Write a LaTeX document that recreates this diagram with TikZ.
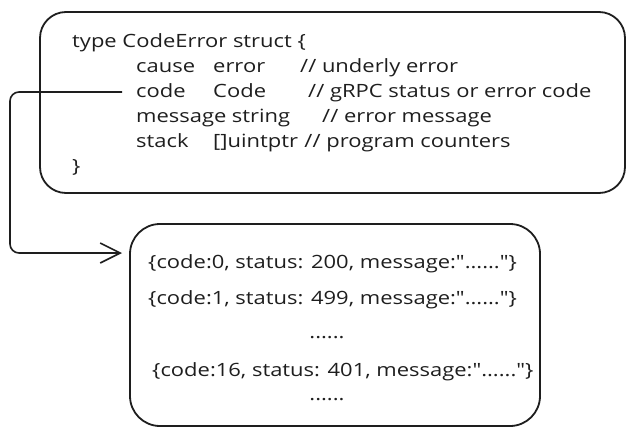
\documentclass[tikz,border=0pt]{standalone}
\usepackage{fontspec}
\newfontfamily\hand{Open Sans}[FakeStretch=1.2]
\usetikzlibrary{arrows.meta}
\definecolor{ink}{HTML}{1E1E1E}
\tikzset{
  box/.style={draw=ink, line width=1.8pt, rounded corners=26pt, inner sep=0pt},
  txt/.style={anchor=base west, inner sep=0pt, text=ink, font=\hand\fontsize{18.3}{21}\selectfont},
  ctxt/.style={anchor=base, inner sep=0pt, text=ink, font=\hand\fontsize{18.3}{21}\selectfont},
  link/.style={draw=ink, line width=1.6pt, rounded corners=9pt, -{Straight Barb[length=20pt,width=20pt,line width=1.6pt]}}
}
\begin{document}
\begin{tikzpicture}[x=1pt,y=-1pt]
\useasboundingbox (0,0) rectangle (638,436);
% boxes
\node[box, minimum width=585pt, minimum height=181pt] (top) at (332.5,102.5) {};
\node[box, rounded corners=30pt, minimum width=410pt, minimum height=202pt] (bot) at (335,325) {};
% struct text
\node[txt] (l1) at (72,48) {type CodeError struct \{};
\node[txt] (c1a) at (136,73) {cause};
\node[txt] (c1b) at (213,73) {error};
\node[txt] (c1c) at (300,73) {// underly error};
\node[txt] (c2a) at (136,98) {code};
\node[txt] (c2b) at (213,98) {Code};
\node[txt] (c2c) at (308,98) {// gRPC status or error code};
\node[txt] (c3a) at (136,123) {message};
\node[txt] (c3b) at ([xshift=5pt]c3a.base east) {string};
\node[txt] (c3c) at (322,123) {// error message};
\node[txt] (c4a) at (136,147) {stack};
\node[txt] (c4b) at (213,147) {[]uintptr};
\node[txt] (c4c) at ([xshift=6pt]c4b.base east) {// program counters};
\node[txt] (l6) at (72,172) {\}};
% table text
\node[txt] (r1) at (148,268) {\{code:0, status: 200, message:"......"\}};
\node[txt] (r2) at (148,304) {\{code:1, status: 499, message:"......"\}};
\node[ctxt] (r3) at (327,338) {......};
\node[txt] (r4) at (152,376) {\{code:16, status: 401, message:"......"\}};
\node[ctxt] (r5) at (327,400) {......};
% connector
\coordinate (start) at (122,92);
\coordinate (tip) at (122,253);
\draw[link] (start) -- (10,92) -- (10,253) -- (tip);
\end{tikzpicture}
\end{document}
